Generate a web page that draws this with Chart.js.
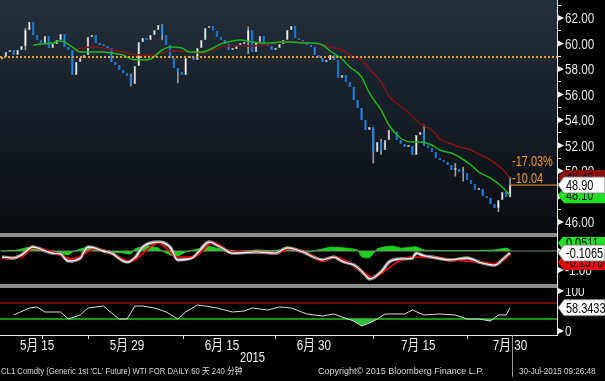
<!DOCTYPE html>
<html><head><meta charset="utf-8">
<script src="https://cdn.jsdelivr.net/npm/chart.js@4.4.1/dist/chart.umd.min.js"></script>
<style>
html,body{margin:0;padding:0;background:#000;}
body{width:605px;height:381px;position:relative;overflow:hidden;}
canvas{position:absolute;left:0;}
.sep{position:absolute;left:0;width:557px;height:4px;background:#8d8d8d;}
.vline{position:absolute;left:557px;top:0;width:1px;height:336px;background:#e6e6e6;}
.txt{position:absolute;color:#d9d9d9;white-space:nowrap;font-family:'Liberation Sans','Noto Sans CJK SC',sans-serif;line-height:1;transform-origin:0 0;}
</style></head><body>
<canvas id="cMain" width="605" height="233" style="top:0"></canvas>
<div class="sep" style="top:233px"></div>
<canvas id="cMacd" width="605" height="47" style="top:237px"></canvas>
<div class="sep" style="top:284px"></div>
<canvas id="cRsi" width="605" height="93" style="top:288px"></canvas>
<div class="vline"></div>
<div class="txt" style="left:240px;top:350px;font-size:14px;color:#eee;transform:scaleX(0.8)">2015</div>
<div class="txt" style="left:1px;top:367px;font-size:9px;transform:scaleX(0.86)">CL1 Comdty (Generic 1st 'CL' Future) WTI FOR DAILY 60 天 240 分钟</div>
<div class="txt" style="left:318px;top:367px;font-size:9px;transform:scaleX(1.0)">Copyright© 2015 Bloomberg Finance L.P.</div>
<div class="txt" style="left:519px;top:367px;font-size:9px;transform:scaleX(0.9)">30-Jul-2015 09:26:48</div>
<script>
// ---------- DATA ----------
const closes = [
58.94,59.33,59.49,59.10,59.49,59.80,61.06,61.69,60.67,60.27,
60.04,60.59,59.65,59.96,60.27,60.75,59.73,59.49,57.53,58.55,
58.86,59.10,60.51,60.67,60.04,59.88,59.80,59.65,58.55,58.31,
57.92,57.69,57.45,56.82,58.24,60.12,60.43,60.27,60.67,61.06,
61.45,60.67,59.88,58.86,58.08,57.76,57.53,58.86,58.94,58.71,
59.65,60.27,61.22,61.37,60.98,60.51,60.27,59.96,59.49,59.55,
59.88,59.96,60.12,61.06,59.33,60.12,60.59,59.88,59.80,59.49,
59.65,59.96,60.27,61.06,61.37,60.43,60.27,60.12,59.88,59.73,
59.10,58.86,58.55,58.71,59.10,58.71,57.29,57.53,56.98,56.59,
55.57,54.94,54.00,53.22,53.45,51.49,52.27,51.65,52.43,53.22,
53.10,52.43,52.12,51.88,51.96,51.25,52.82,53.06,52.04,51.80,
51.49,51.02,50.86,50.71,50.47,50.08,50.15,49.92,49.85,49.29,
48.98,48.51,48.60,48.04,47.88,47.41,47.10,47.73,48.35,47.96,
48.90];
const firstOpen = 58.75;
const wicks = [[6,59.5,61.2],[33,56.67,57.6],[41,60.3,61.5],[45,56.9,58.0],[63,59.2,61.3],
  [95,50.63,53.3],[97,51.3,52.5],[108,52.0,53.6],[116,49.6,50.6],[118,49.2,50.3],[127,46.8,47.5],[130,47.96,49.53]];
const fastMA = [[8,59.88],[10,59.96],[13,60.04],[15,60.20],[18,59.73],[20,59.33],[23,59.33],[26,59.33],[28,59.25],
  [31,59.10],[33,58.78],[36,58.71],[38,58.78],[41,59.49],[43,59.73],[46,59.65],[48,59.33],[51,59.33],[54,59.65],
  [56,59.96],[59,60.20],[61,60.27],[64,60.12],[66,60.04],[69,60.04],[71,60.12],[74,60.12],[77,60.04],[79,60.04],
  [82,59.88],[84,59.41],[87,58.78],[89,58.16],[92,57.37],[94,56.12],[97,54.78],[99,53.61],[102,52.59],[105,52.27],
  [107,52.27],[110,52.04],[112,51.65],[115,51.41],[117,51.10],[120,50.47],[122,49.92],[125,49.45],[128,48.75],[130,48.10]];
const slowMA = [[19,59.57],[23,59.73],[26,59.65],[28,59.49],[31,59.33],[33,59.18],[36,59.10],[38,59.10],[41,59.25],
  [43,59.41],[46,59.41],[48,59.33],[51,59.25],[54,59.49],[56,59.73],[59,59.80],[61,59.80],[64,59.80],[66,59.88],
  [69,59.96],[71,60.12],[74,60.12],[77,60.12],[79,60.04],[82,59.88],[84,59.73],[87,59.49],[89,59.10],[92,58.71],
  [94,58.00],[97,56.98],[99,55.88],[102,55.10],[105,54.31],[107,53.69],[110,53.22],[112,52.51],[115,52.12],
  [117,51.88],[120,51.65],[122,51.33],[125,50.86],[128,50.16],[130,49.45]];
const priceLevel = 58.95;
const changeTexts = ['-17.03%','-10.04'];
const macdLine = [[0,-0.32],[3,-0.37],[5,-0.21],[8,0.21],[9,0.16],[13,-0.11],[15,-0.16],[17,-0.53],[20,-0.37],[22,0.21],
  [26,0],[28,-0.11],[32,-0.58],[34,-0.37],[36,0.21],[40,0.47],[43,0.21],[45,-0.47],[49,-0.32],[53,0.47],[56,0.21],
  [59,-0.11],[65,-0.05],[70,-0.11],[73,0.16],[77,-0.05],[82,-0.47],[85,-0.32],[87,-0.53],[90,-0.74],[93,-1.26],
  [94,-1.47],[97,-1.11],[99,-0.58],[102,-0.42],[105,-0.37],[106,-0.11],[108,-0.26],[110,-0.32],[115,-0.47],
  [119,-0.37],[122,-0.58],[126,-0.74],[128,-0.47],[130,-0.1065]];
const signalLine = [[0,-0.37],[5,-0.32],[8,0.16],[13,-0.05],[18,-0.42],[24,0.11],[27,-0.05],[33,-0.53],[38,0.21],
  [40,0.42],[45,-0.32],[49,-0.32],[54,0.42],[59,-0.05],[65,-0.05],[70,-0.11],[74,0.11],[78,-0.11],[82,-0.53],
  [85,-0.32],[89,-0.63],[94,-1.32],[95,-1.37],[99,-0.89],[102,-0.47],[105,-0.32],[110,-0.32],[115,-0.47],
  [122,-0.58],[126,-0.68],[129,-0.37],[130,-0.1576]];
const histLine = [[0,0],[4,0.05],[7,0.2],[10,0.05],[13,0],[15,-0.1],[17,-0.2],[18,-0.05],[20,0.1],[22,0.2],[24,0.05],
  [27,-0.05],[31,-0.1],[33,-0.15],[34,0.1],[37,0.26],[40,0.15],[41,0],[43,-0.2],[45,-0.26],[47,-0.05],[51,0.15],
  [52,0.26],[55,0.15],[58,0.05],[61,-0.05],[65,0.05],[69,0.02],[73,0.1],[75,0.02],[78,-0.05],[82,0.1],[84,0.2],
  [88,0.15],[91,0.05],[92,-0.3],[94,-0.35],[96,0.1],[98,0.22],[100,0.25],[102,0.15],[105,0.2],[106,0.22],[108,0.05],
  [112,0.03],[117,0.02],[122,0.03],[126,0.05],[129,0.15],[130,0.0511]];
const rsiLine = [[3,40],[7,57.5],[9,60],[11,47.5],[15,47.5],[17,30],[20,40],[22,57.5],[26,62.5],[28,45],[30,30],[32,30],
  [34,62.5],[36,62.5],[39,57.5],[42,47.5],[45,30],[47,47.5],[50,65],[52,62.5],[55,57.5],[59,47.5],[62,50],[64,57.5],
  [68,52.5],[71,60],[74,57.5],[78,42.5],[82,37.5],[85,42.5],[87,35],[90,25],[92,12.5],[94,20],[96,30],[98,42.5],
  [103,42.5],[105,52.5],[108,40],[112,42.5],[116,40],[119,30],[122,30],[125,25],[127,40],[129,40],[130,58.3433]];
const rsiBands = [70, 30];
const macdTicks = [-1, 0];
const rsiTicks = [0, 100];
const dateTickIdx = [9, 32, 56.3, 79.8, 106.5, 130];
const dateTickLabels = ['5月 15','5月 29','6月 15','6月 30','7月 15','7月 30'];
const minorTickIdx = [10.2, 22, 46.3, 69.9, 95, 119];
const nowIdx = 130.5;

// ---------- helpers ----------
const X_MIN = -0.5, X_MAX = 142;
const FONT = "'Liberation Sans','Noto Sans CJK SC',sans-serif";
const SX = 0.78;   // horizontal squeeze to mimic the narrow terminal font
const pts = a => a.map(p => ({x: p[0], y: p[1]}));
const last = a => a[a.length - 1];
const AXIS_W = 48;
const xHidden = {type:'linear', min:X_MIN, max:X_MAX, display:false, offset:false};

function cText(ctx, text, x, y, size, color, align) {
  ctx.save();
  ctx.font = size + 'px ' + FONT; ctx.fillStyle = color;
  ctx.textBaseline = 'middle'; ctx.textAlign = align || 'left';
  ctx.translate(x, y); ctx.scale(SX, 1); ctx.fillText(text, 0, 0);
  ctx.restore();
}

function drawTab(ctx, y, bg, fg, text, outline) {
  const h = 16, x0 = 558, x1 = 564, x2 = 605;
  ctx.beginPath();
  ctx.moveTo(x0, y); ctx.lineTo(x1, y - h/2); ctx.lineTo(x2, y - h/2);
  ctx.lineTo(x2, y + h/2); ctx.lineTo(x1, y + h/2); ctx.closePath();
  ctx.fillStyle = bg; ctx.fill();
  if (outline) { ctx.strokeStyle = outline; ctx.lineWidth = 1; ctx.stroke(); }
  cText(ctx, text, 566, y + 1, 14, fg);
}

const deco = {
  id: 'deco',
  beforeDraw(chart, args, o) {
    const {ctx, chartArea: a} = chart;
    if (o.gradient) {
      const g = ctx.createLinearGradient(0, a.top, 0, a.bottom);
      g.addColorStop(0, '#22303d'); g.addColorStop(1, '#0a0c0f');
      ctx.fillStyle = g; ctx.fillRect(a.left, a.top, a.right - a.left, a.bottom - a.top);
    }
  },
  afterDraw(chart, args, o) {
    const ctx = chart.ctx, ys = chart.scales.y, xs = chart.scales.x, a = chart.chartArea;
    ctx.save();
    ys.ticks.forEach(t => {
      const lab = o.fmt(t.value);
      if (lab === '') return;
      const y = ys.getPixelForValue(t.value);
      ctx.fillStyle = '#f0f0f0';
      ctx.beginPath(); ctx.moveTo(558, y - 3); ctx.lineTo(564, y); ctx.lineTo(558, y + 3); ctx.closePath(); ctx.fill();
      cText(ctx, lab, 565, y + 1, 15, '#e4e4e4');
    });
    (o.texts || []).forEach(t => {
      cText(ctx, t.text, xs.getPixelForValue(t.x) + 2, ys.getPixelForValue(t.v) + t.dy, 14, t.color);
    });
    (o.tabs || []).forEach(t => {
      drawTab(ctx, ys.getPixelForValue(t.v) + (t.dy || 0), t.bg, t.fg, t.text, t.outline);
    });
    if (o.xaxis) {
      ctx.strokeStyle = '#e0e0e0'; ctx.lineWidth = 1;
      minorTickIdx.forEach(i => {
        const x = Math.round(xs.getPixelForValue(i)) + 0.5;
        ctx.beginPath(); ctx.moveTo(x, a.bottom); ctx.lineTo(x, a.bottom + 4); ctx.stroke();
      });
      xs.ticks.forEach((t, i) => {
        cText(ctx, dateTickLabels[i], xs.getPixelForValue(t.value), a.bottom + 11, 15, '#f0f0f0', 'center');
      });
      const xn = Math.round(xs.getPixelForValue(nowIdx)) + 0.5;
      ctx.strokeStyle = '#9a9a9a';
      ctx.beginPath(); ctx.moveTo(xn, a.bottom); ctx.lineTo(xn, chart.height - 4); ctx.stroke();
    }
    ctx.restore();
  }
};

function yAxis(min, max, step) {
  return {
    type: 'linear', position: 'right', min, max,
    afterFit: s => { s.width = AXIS_W; },
    afterBuildTicks: s => { s.ticks = step.map(v => ({value: v})); },
    grid: {drawOnChartArea: false, drawTicks: true, tickLength: 4, color: '#e6e6e6'},
    border: {display: true, color: '#e6e6e6'},
    ticks: {display: false}
  };
}

const common = {
  responsive: false, animation: false, devicePixelRatio: 1,
  layout: {padding: 0},
  plugins: {legend: {display: false}, tooltip: {enabled: false}}
};

// ---------- main price panel ----------
const lastClose = last(closes);
const bodies = closes.map((c, i) => ({x: i, y: [i ? closes[i-1] : firstOpen, c]}));
const bodyColors = closes.map((c, i) => c >= (i ? closes[i-1] : firstOpen) ? '#f4f4f4' : '#1e84ec');
const bodyBorders = closes.map((c, i) => c >= (i ? closes[i-1] : firstOpen) ? '#a8a8a8' : '#1e84ec');
const priceTickVals = [];
for (let v = 46; v <= 63; v++) priceTickVals.push(v);
const priceFmt = v => v % 2 === 0 ? v.toFixed(2) : '';

new Chart(document.getElementById('cMain'), {
  type: 'bar',
  data: {datasets: [
    {type: 'bar', data: wicks.map(w => ({x: w[0], y: [w[1], w[2]]})), backgroundColor: '#9b9b9b',
     barThickness: 1, grouped: false, order: 4},
    {type: 'bar', data: bodies, backgroundColor: bodyColors, borderColor: bodyBorders, borderWidth: 0.6,
     borderSkipped: false, minBarLength: 2,
     barPercentage: 0.66, categoryPercentage: 1, grouped: false, order: 3},
    {type: 'line', data: pts(slowMA), borderColor: '#801616', borderWidth: 1.5, pointRadius: 0,
     cubicInterpolationMode: 'monotone', order: 2},
    {type: 'line', data: pts(fastMA), borderColor: '#1db51d', borderWidth: 1.5, pointRadius: 0,
     cubicInterpolationMode: 'monotone', order: 1},
    {type: 'line', data: [{x: X_MIN, y: priceLevel}, {x: X_MAX, y: priceLevel}], borderColor: '#ee9a1e',
     borderWidth: 2, borderDash: [2, 2], pointRadius: 0, order: 0},
    {type: 'line', data: [{x: closes.length - 1, y: lastClose}, {x: X_MAX, y: lastClose}], borderColor: '#ee9a1e',
     borderWidth: 1, pointRadius: 0, order: 0}
  ]},
  options: Object.assign({}, common, {
    scales: {x: xHidden, y: yAxis(45.14, 63.41, priceTickVals)},
    plugins: Object.assign({}, common.plugins, {deco: {
      gradient: true,
      fmt: priceFmt,
      texts: [
        {text: changeTexts[0], x: closes.length - 1, v: lastClose, dy: -23, color: '#ee9a30'},
        {text: changeTexts[1], x: closes.length - 1, v: lastClose, dy: -6, color: '#ee9a30'}
      ],
      tabs: [
        {v: last(slowMA)[1], bg: '#8a1010', fg: '#000', text: last(slowMA)[1].toFixed(2)},
        {v: last(fastMA)[1], bg: '#22e022', fg: '#000', text: last(fastMA)[1].toFixed(2)},
        {v: lastClose, bg: '#ffffff', fg: '#000', text: lastClose.toFixed(2), outline: '#888'}
      ]
    }})
  }),
  plugins: [deco]
});

// ---------- MACD panel ----------
const mLast = last(macdLine)[1];
new Chart(document.getElementById('cMacd'), {
  type: 'line',
  data: {datasets: [
    {data: pts(histLine), borderColor: '#19d419', backgroundColor: '#19d419', borderWidth: 1, pointRadius: 0,
     fill: 'origin', tension: 0.2, order: 5},
    {data: [{x: X_MIN, y: 0}, {x: X_MAX, y: 0}], borderColor: '#6f8f6f', borderWidth: 1, pointRadius: 0, order: 4},
    {data: pts(macdLine), borderColor: '#8c8c8c', borderWidth: 3.5, pointRadius: 0, cubicInterpolationMode: 'monotone', order: 3},
    {data: pts(signalLine), borderColor: '#e00a0a', borderWidth: 1.8, pointRadius: 0, cubicInterpolationMode: 'monotone', order: 2},
    {data: pts(macdLine), borderColor: '#f4f4f4', borderWidth: 1.3, pointRadius: 0, cubicInterpolationMode: 'monotone', order: 1}
  ]},
  options: Object.assign({}, common, {
    scales: {x: xHidden, y: yAxis(-1.737, 0.737, macdTicks)},
    plugins: Object.assign({}, common.plugins, {deco: {
      fmt: v => v.toFixed(2),
      tabs: [
        {v: mLast, dy: -10, bg: '#22e022', fg: '#000', text: last(histLine)[1].toFixed(4)},
        {v: mLast, dy: 9, bg: '#e00a0a', fg: '#000', text: last(signalLine)[1].toFixed(4)},
        {v: mLast, bg: '#ffffff', fg: '#000', text: mLast.toFixed(4), outline: '#888'}
      ]
    }})
  }),
  plugins: [deco]
});

// ---------- RSI panel ----------
new Chart(document.getElementById('cRsi'), {
  type: 'line',
  data: {datasets: [
    {data: [{x: X_MIN, y: rsiBands[0]}, {x: X_MAX, y: rsiBands[0]}], borderColor: '#e01010', borderWidth: 1.2, pointRadius: 0, order: 3},
    {data: [{x: X_MIN, y: rsiBands[1]}, {x: X_MAX, y: rsiBands[1]}], borderColor: '#14c814', borderWidth: 1.5, pointRadius: 0, order: 2},
    {data: pts(rsiLine), borderColor: '#dcdcdc', borderWidth: 1, pointRadius: 0,
     fill: {target: {value: rsiBands[1]}, above: 'rgba(0,0,0,0)', below: '#2cbf3a'}, order: 1}
  ]},
  options: Object.assign({}, common, {
    scales: {
      x: {type: 'linear', min: X_MIN, max: X_MAX, offset: false, position: 'bottom',
          afterFit: s => { s.height = 46; },
          afterBuildTicks: s => { s.ticks = dateTickIdx.map(v => ({value: v})); },
          grid: {drawOnChartArea: false, drawTicks: false},
          border: {display: true, color: '#e6e6e6'},
          ticks: {display: false}},
      y: yAxis(-10, 107.5, rsiTicks)
    },
    plugins: Object.assign({}, common.plugins, {deco: {
      fmt: v => String(v),
      xaxis: true,
      tabs: [{v: last(rsiLine)[1], bg: '#ffffff', fg: '#000', text: last(rsiLine)[1].toFixed(4), outline: '#888'}]
    }})
  }),
  plugins: [deco]
});
</script>
</body></html>
